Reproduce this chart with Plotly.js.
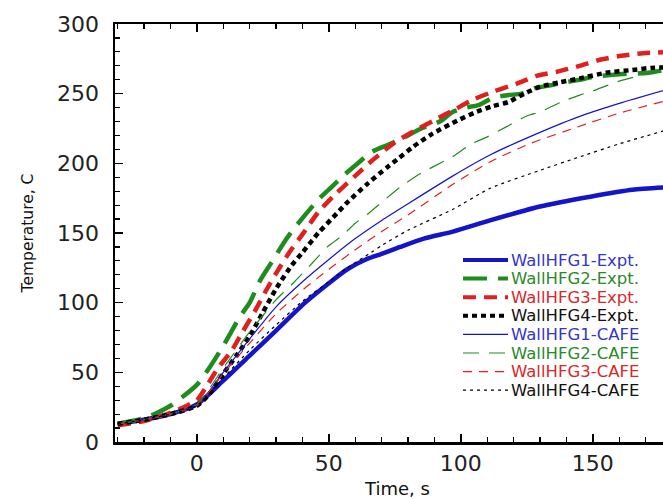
<!DOCTYPE html>
<html>
<head>
<meta charset="utf-8">
<script src="https://cdn.plot.ly/plotly-3.0.1.min.js"></script>
<style>
html,body{margin:0;padding:0;overflow:hidden;background:#fff;}
#chart{width:700px;height:499px;}
</style>
</head>
<body>
<div id="chart"></div>
<script>
// ---- data (time in s, temperature in C) ----
var seriesNames = ["WallHFG1-Expt.","WallHFG2-Expt.","WallHFG3-Expt.","WallHFG4-Expt.",
                   "WallHFG1-CAFE","WallHFG2-CAFE","WallHFG3-CAFE","WallHFG4-CAFE"];

var t_G1E = [-30,-20,-10,0,10,20,30,41,50,57,64,70,77,86,97,111,130,149,165,180];
var T_G1E = [13,16,20,27,44,62,80,100,114,124,131,135,140,146,151,159,169,176,181,183];

var t_G2E = [-30,-20,-15,-10,-5,0,5,10,16,20,24,28,34,38,46,51,56,61,66,72,77,85,92,97,102,107,112,118,123,128,134,139,145,150,160,171,180];
var T_G2E = [13,17,21,26,33,41,54,69,89,100,116,128,146,156,174,183,192,200,208,213,217,225,230,237,240,242,247,249,250,254,256,258,260,262,264,265,268];

var t_G3E = [-30,-20,-10,-5,0,3,8,13,17,22,26,30,35,40,46,52,60,67,75,82,90,98,105,113,121,129,137,145,152,160,169,180];
var T_G3E = [12,15,21,25,30,38,53,65,78,94,108,121,136,149,165,177,191,203,215,223,231,239,246,252,257,263,266,270,274,277,279,280];

var t_G4E = [-30,-20,-10,0,5,10,15,20,25,30,36,40,46,53,57,65,72,76,82,89,99,106,112,118,124,130,137,145,155,165,172,180];
var T_G4E = [13,16,20,26,35,49,62,76,93,110,127,136,150,164,172,186,197,203,212,221,231,237,241,244,250,255,258,261,265,267,268.5,269];

var t_G1C = [-30,-20,-10,0,10,20,30,40,50,60,70,80,97,111,126,144,160,180];
var T_G1C = [13,16,20,26,50,74,97,115,131,146,159,171,191,206,219,233,243,254];

var t_G2C = [-30,-20,-10,0,10,20,30,37,44,50,55,60,65,70,77,85,90,97,104,110,117,125,130,138,145,150,160,170,180];
var T_G2C = [13,16,20,27,53,79,102,115,129,141,148,157,164,172,183,193,198,205,214,219,226,234,237,244,249,252,259,264,268];

var t_G3C = [-30,-20,-10,0,10,20,30,40,50,60,70,80,97,111,126,144,160,180];
var T_G3C = [13,16,20,26,49,71,92,109,124,138,151,163,185,201,214,226,236,246];

var t_G4C = [-30,-20,-10,0,10,20,30,40,50,57,66,70,80,97,111,130,144,160,180];
var T_G4C = [13,16,20,26,46,66,84,101,115,125,136,141,152,167,182,195,204,214,225];

// ---- styles ----
var BLUE = "#1414c8", GREEN = "#1e8c1e", RED = "#e0201e", BLACK = "#000000";
var TXT = ["#3535c8", "#2a8a2a", "#d82828", "#111111", "#3535c8", "#2a8a2a", "#d82828", "#111111"];
var COLS = [BLUE, GREEN, RED, BLACK, BLUE, GREEN, RED, BLACK];
var WIDTHS = [4.5, 4.5, 4.5, 4.5, 1.2, 1.2, 1.2, 1.2];
var DASHES = ["solid", "24px,11px", "13px,8px", "5px,4px", "solid", "16px,10px", "9px,7px", "3px,4px"];
var XS = [t_G1E, t_G2E, t_G3E, t_G4E, t_G1C, t_G2C, t_G3C, t_G4C];
var YS = [T_G1E, T_G2E, T_G3E, T_G4E, T_G1C, T_G2C, T_G3C, T_G4C];

var data = [];
for (var i = 0; i < seriesNames.length; i++) {
  data.push({
    x: XS[i], y: YS[i], type: "scatter", mode: "lines", name: seriesNames[i],
    showlegend: false,
    line: {color: COLS[i], width: WIDTHS[i], dash: DASHES[i], shape: "spline", smoothing: 0.6}
  });
}

// ---- legend drawn as text + line samples (paper coordinates) ----
var W = 700, H = 499, ML = 115, MR = 20, MT = 24, MB = 57;
var PW = W - ML - MR, PH = H - MT - MB;
function px2x(px) { return (px - ML) / PW; }
function py2y(py) { return (H - MB - py) / PH; }
var legTop = 260, legStep = 18.6, legLineX0 = 463, legLineX1 = 508, legTextX = 509;
var annotations = [], shapes = [];
for (var j = 0; j < seriesNames.length; j++) {
  var yy = py2y(legTop + j * legStep);
  annotations.push({
    xref: "paper", yref: "paper", x: px2x(legTextX), y: yy,
    xanchor: "left", yanchor: "middle", showarrow: false,
    text: seriesNames[j],
    font: {family: "DejaVu Sans, Verdana, sans-serif", size: 16.5, color: TXT[j]}
  });
  shapes.push({
    type: "line", xref: "paper", yref: "paper",
    x0: px2x(legLineX0), x1: px2x(legLineX1), y0: yy, y1: yy,
    line: {color: COLS[j], width: WIDTHS[j] === 1.2 ? 1.2 : 4, dash: DASHES[j]}
  });
}

var tickFont = {family: "DejaVu Sans, Verdana, sans-serif", size: 22, color: "#222"};

var layout = {
  width: W, height: H,
  margin: {l: ML, r: MR, t: MT, b: MB},
  paper_bgcolor: "#fff", plot_bgcolor: "#fff",
  showlegend: false,
  annotations: annotations,
  shapes: shapes,
  xaxis: {
    range: [-31, 183], showgrid: false, zeroline: false,
    showline: true, linecolor: "#000", linewidth: 2.5, mirror: "allticks",
    ticks: "inside", ticklen: 8, tickwidth: 1.5, tickcolor: "#000",
    tick0: 0, dtick: 50, tickfont: tickFont,
    minor: {ticks: "inside", ticklen: 5, tickwidth: 1.2, tickcolor: "#000", dtick: 10, tick0: 0},
    title: {text: "Time, s", font: {family: "DejaVu Sans, Verdana, sans-serif", size: 18, color: "#111"}, standoff: 10},
    automargin: false
  },
  yaxis: {
    range: [0, 300], showgrid: false, zeroline: false,
    showline: true, linecolor: "#000", linewidth: 2.5, mirror: "allticks",
    ticks: "inside", ticklen: 8, tickwidth: 1.5, tickcolor: "#000",
    tick0: 0, dtick: 50, tickfont: tickFont, ticklabelstandoff: 9,
    minor: {ticks: "inside", ticklen: 5, tickwidth: 1.2, tickcolor: "#000", dtick: 10, tick0: 0},
    title: {text: "Temperature, C", font: {family: "DejaVu Sans, Verdana, sans-serif", size: 15.5, color: "#111"}, standoff: 20},
    automargin: false
  }
};

Plotly.newPlot("chart", data, layout, {displayModeBar: false, staticPlot: true});
</script>
</body>
</html>
